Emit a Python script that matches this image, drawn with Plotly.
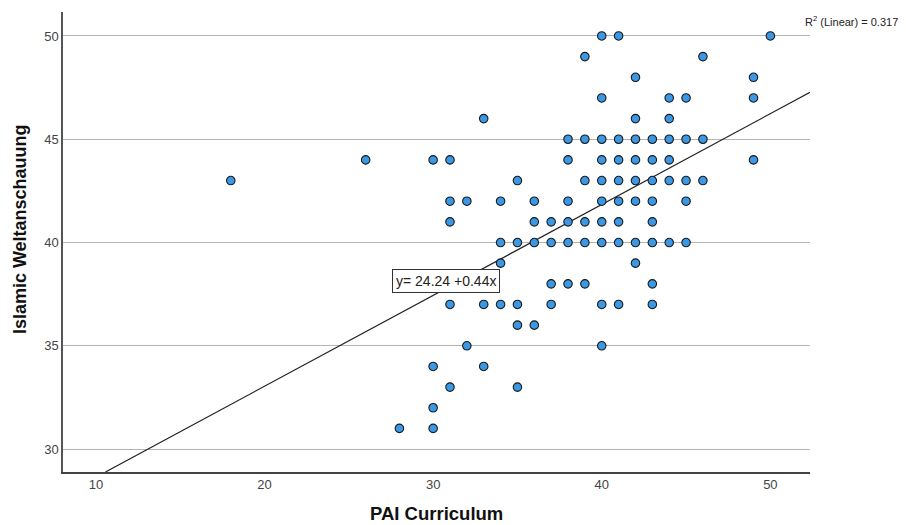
import plotly.graph_objects as go

# Data (PAI Curriculum vs Islamic Weltanschauung)
pai_curriculum = [
    40, 41, 50,
    39, 46,
    42, 49,
    40, 44, 45, 49,
    33, 42, 44,
    38, 39, 40, 41, 42, 43, 44, 45, 46,
    26, 30, 31, 38, 40, 41, 42, 43, 44, 49,
    18, 35, 39, 40, 41, 42, 43, 44, 45, 46,
    31, 32, 34, 36, 38, 40, 41, 42, 43, 45,
    31, 36, 37, 38, 39, 40, 41, 43,
    34, 35, 36, 37, 38, 39, 40, 41, 42, 43, 44, 45,
    34, 42,
    37, 38, 39, 43,
    31, 33, 34, 35, 37, 40, 41, 43,
    35, 36,
    32, 40,
    30, 33,
    31, 35,
    30,
    28, 30,
]
islamic_weltanschauung = (
    [50] * 3 + [49] * 2 + [48] * 2 + [47] * 4 + [46] * 3 + [45] * 9 +
    [44] * 10 + [43] * 10 + [42] * 10 + [41] * 8 + [40] * 12 + [39] * 2 +
    [38] * 4 + [37] * 8 + [36] * 2 + [35] * 2 + [34] * 2 + [33] * 2 +
    [32] * 1 + [31] * 2
)

fit_intercept = 24.24
fit_slope = 0.44
r_squared = 0.317

x_range = [8.05, 52.35]
y_range = [28.89, 51.16]
x_ticks = [10, 20, 30, 40, 50]
y_ticks = [30, 35, 40, 45, 50]

fig = go.Figure()

# Fit line, clipped to plot area
x_start = (y_range[0] - fit_intercept) / fit_slope
x_end = x_range[1]
fig.add_trace(go.Scatter(
    x=[x_start, x_end],
    y=[fit_intercept + fit_slope * x_start, fit_intercept + fit_slope * x_end],
    mode="lines", line=dict(color="#222222", width=1.2),
    hoverinfo="skip", showlegend=False,
))

fig.add_trace(go.Scatter(
    x=pai_curriculum, y=islamic_weltanschauung, mode="markers",
    marker=dict(size=8.5, color="#3a98e6", line=dict(color="#1a1a1a", width=1.1)),
    showlegend=False,
))

# The page body has an 8px margin, so the figure is sized to fit the window
fig.update_layout(
    width=898, height=517,
    margin=dict(l=55, r=96, t=4, b=53),
    paper_bgcolor="white", plot_bgcolor="white",
    font=dict(family="Liberation Sans, Arial, sans-serif", color="#444444"),
)
fig.update_xaxes(
    range=x_range, tickvals=x_ticks, showgrid=False, zeroline=False,
    showline=True, linecolor="#444444", linewidth=1.5,
    ticks="", tickfont=dict(size=13, color="#444444"),
)
fig.update_yaxes(
    range=y_range, tickvals=y_ticks, showgrid=True, gridcolor="#b4b4b4", gridwidth=1,
    zeroline=False, showline=True, linecolor="#555555", linewidth=1.5,
    ticks="", tickfont=dict(size=13, color="#444444"),
)

fig.add_annotation(
    x=30.77, y=38.14, xref="x", yref="y",
    text=f"y= {fit_intercept:.2f} +{fit_slope:.2f}x", showarrow=False,
    font=dict(size=14, color="#222222", family="Liberation Sans, Arial, sans-serif"),
    bgcolor="white", bordercolor="#333333", borderwidth=1, borderpad=3,
)
fig.add_annotation(
    x=1.0, y=1.0, xref="paper", yref="paper", xanchor="left", yanchor="middle",
    xshift=-7, yshift=-9,
    text=f"R<sup>2</sup> (Linear) = {r_squared:.3f}", showarrow=False,
    font=dict(size=11, color="#222222"),
)
fig.add_annotation(
    x=0.5, y=0, xref="paper", yref="paper", yanchor="middle",
    yshift=-41, showarrow=False, text="<b>PAI Curriculum</b>",
    font=dict(size=18.5, color="#111111"),
)
fig.add_annotation(
    x=0, y=0.528, xref="paper", yref="paper", xanchor="center",
    xshift=-43, showarrow=False, textangle=-90, text="<b>Islamic Weltanschauung</b>",
    font=dict(size=18, color="#111111"),
)

fig.write_html("out.html")
